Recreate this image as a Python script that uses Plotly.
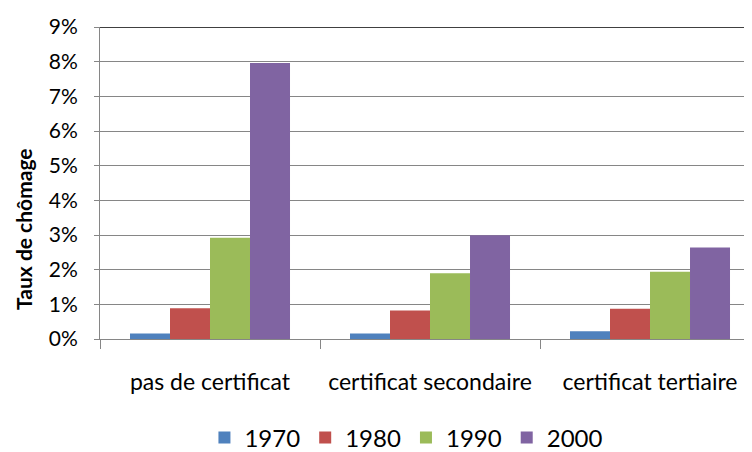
import plotly.graph_objects as go

categories = ["pas de certificat", "certificat secondaire", "certificat tertiaire"]
years = ["1970", "1980", "1990", "2000"]
v1970 = [0.0016, 0.0016, 0.0022]
v1980 = [0.0089, 0.0082, 0.0087]
v1990 = [0.0292, 0.0190, 0.0194]
v2000 = [0.0796, 0.0299, 0.0264]
colors = ["#4F81BD", "#C0504D", "#9BBB59", "#8064A2"]
y_title = "Taux de chômage"

fig = go.Figure()
for name, vals, col in zip(years, [v1970, v1980, v1990, v2000], colors):
    fig.add_trace(go.Bar(x=categories, y=vals, name=name, marker=dict(color=col, line=dict(width=0))))

font = "Lato, 'Open Sans', sans-serif"
fig.update_layout(
    width=744, height=444,
    margin=dict(l=92, r=0, t=19, b=113, autoexpand=False),
    paper_bgcolor="white", plot_bgcolor="white",
    barmode="group", bargap=0.2727, bargroupgap=0,
    font=dict(family=font, size=20, color="black"),
    showlegend=True,
    legend=dict(orientation="h", x=0.47, xanchor="center", y=-0.317, yanchor="middle",
                font=dict(size=24), itemwidth=30, traceorder="normal"),
    xaxis=dict(type="category", range=[-0.5, 2.4636], showline=True, linecolor="#868686", linewidth=1,
               ticks="outside", tickson="boundaries", ticklen=9, tickcolor="#868686",
               ticklabelstandoff=22, showgrid=False, tickfont=dict(size=23), automargin=False),
    yaxis=dict(range=[0, 0.09], dtick=0.01, tickformat=".0%", showline=True, linecolor="#868686",
               linewidth=1, ticks="outside", ticklen=5, tickcolor="#868686", showgrid=True,
               gridcolor="#868686", gridwidth=1, zeroline=False, tickfont=dict(size=21),
               automargin=False, ticklabelstandoff=12),
)
fig.add_annotation(text="<b>" + y_title + "</b>", xref="paper", yref="paper",
                   x=-0.1166, y=0.3526, xanchor="center", yanchor="middle",
                   textangle=-90, showarrow=False, font=dict(size=21, family=font))
fig.add_shape(type="line", xref="paper", yref="y", x0=0, x1=1, y0=0.09, y1=0.09,
              line=dict(color="black", width=1.5))
fig.write_html("out.html")
